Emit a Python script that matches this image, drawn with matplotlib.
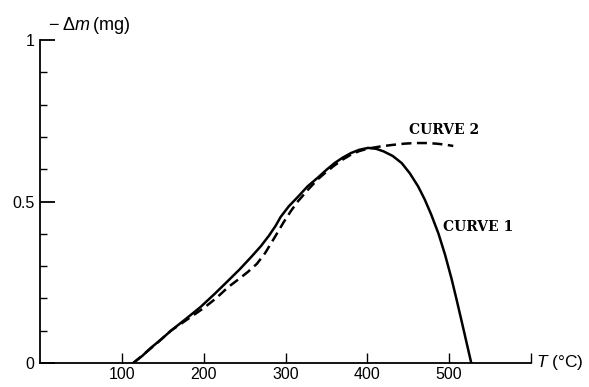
import numpy as np
import matplotlib.pyplot as plt

plt.rcParams['font.family'] = ['Liberation Sans', 'DejaVu Sans']
plt.rcParams['mathtext.fontset'] = 'custom'
plt.rcParams['mathtext.rm'] = 'Liberation Sans'
plt.rcParams['mathtext.it'] = 'Liberation Sans:italic'

### mass loss vs temperature, two runs
t1 = [114, 125, 135, 148, 160, 178, 196, 213, 230, 244, 258, 270, 280, 288,
      294, 304, 315, 327, 340, 350, 360, 370, 380, 390, 401, 411, 420, 431,
      442, 452, 462, 470, 478, 487, 495, 503, 509, 515, 521, 527]
m1 = [0, 0.022, 0.046, 0.073, 0.10, 0.136, 0.173, 0.213, 0.255, 0.29, 0.328,
      0.362, 0.395, 0.425, 0.452, 0.485, 0.514, 0.547, 0.575, 0.598, 0.619,
      0.636, 0.650, 0.660, 0.666, 0.663, 0.655, 0.641, 0.619, 0.587, 0.547,
      0.507, 0.46, 0.40, 0.335, 0.26, 0.197, 0.132, 0.066, 0]

t2 = [114, 140, 160, 180, 200, 215, 230, 242, 254, 265, 275, 287, 298, 307,
      315, 328, 340, 350, 360, 370, 380, 390, 401, 415, 430, 445, 458, 472,
      485, 495, 505]
m2 = [0, 0.055, 0.10, 0.135, 0.17, 0.20, 0.235, 0.258, 0.282, 0.307, 0.34,
      0.39, 0.437, 0.472, 0.50, 0.538, 0.57, 0.592, 0.612, 0.630, 0.645,
      0.656, 0.664, 0.670, 0.675, 0.679, 0.681, 0.681, 0.679, 0.676, 0.672]

xticks = [100, 200, 300, 400, 500]
yticks = [0, 0.5, 1]

fig = plt.figure(figsize=(5.89, 3.87), dpi=100)
ax = fig.add_axes([40/589, 24/387, 491/589, 323/387])

ax.plot(t1, m1, color='black', linewidth=1.8, solid_joinstyle='round')
ax.plot(t2, m2, color='black', linewidth=1.8, linestyle=(0, (4, 2.2)))

ax.set_xlim(0, 600)
ax.set_ylim(0, 1)
for s in ['top', 'right']:
    ax.spines[s].set_visible(False)
ax.spines['left'].set_linewidth(1.3)
ax.spines['bottom'].set_linewidth(1.3)

ax.set_xticks(xticks + [600])
ax.set_xticklabels([str(v) for v in xticks] + [''])
ax.set_yticks(yticks)
ax.set_yticklabels(['0', '0.5', '1'])
ax.set_yticks(np.arange(0.1, 1.0, 0.1), minor=True)
ax.tick_params(axis='x', direction='in', length=7, width=1, pad=3, labelsize=11.5)
ax.tick_params(axis='y', which='major', direction='in', length=11, width=1.3,
               pad=4, labelsize=11.5)
ax.tick_params(axis='y', which='minor', direction='in', length=5, width=1)

ax.text(0.017, 1.046, r'$-\;\Delta m\,$(mg)', transform=ax.transAxes,
        fontsize=13, ha='left', va='center')
ax.text(1.01, 0.0, r'$T$ (°C)', transform=ax.transAxes,
        fontsize=12.5, ha='left', va='center')

ax.text(494, 0.72, 'CURVE 2', family='DejaVu Serif', fontweight='bold',
        fontsize=10, ha='center', va='center')
ax.text(492, 0.42, 'CURVE 1', family='DejaVu Serif', fontweight='bold',
        fontsize=10, ha='left', va='center')

fig.savefig('out.png', dpi=100)
